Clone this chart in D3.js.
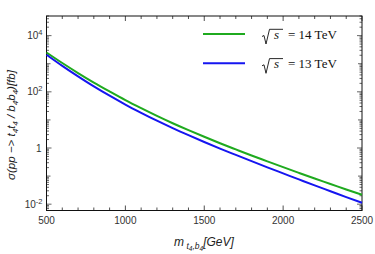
<!DOCTYPE html>
<html><head><meta charset="utf-8">
<script src="https://cdn.jsdelivr.net/npm/d3@7"></script>
<style>body{margin:0;background:#fff}svg{display:block}</style>
</head><body>
<svg id="c" width="375" height="254"></svg>
<script>
const masses = [500,600,700,800,900,1000,1100,1200,1300,1400,1500,1600,1700,1800,1900,2000,2100,2200,2300,2400,2500];
const sigma14 = [2512,1059,466,213,102.6,50.6,26.2,13.9,7.62,4.32,2.51,1.48,0.891,0.540,0.335,0.208,0.130,0.0820,0.0526,0.0335,0.0217];
const sigma13 = [2096,841,355,156,72.6,35.2,17.9,9.36,5.09,2.86,1.64,0.953,0.568,0.340,0.205,0.125,0.0762,0.0466,0.0289,0.0179,0.0112];
const xTicks = [500,1000,1500,2000,2500];
const yTickExps = [4,2,0,-2];
const seriesNames = ["14","13"];
const colors = ["#1faa1f","#1515f0"];

const svg = d3.select("#c");
const L=46.5, R=362, T=16, B=210.5;
const x = d3.scaleLinear().domain([500,2500]).range([L,R]);
const y = d3.scaleLog().domain([5.96e-3,5.0e4]).range([B,T]);

const g = svg.append("g");
const tickCol="#222";
d3.range(500,2501,100).forEach(v=>{
  const major = v%500===0;
  const len = major?5:3;
  g.append("line").attr("x1",x(v)).attr("x2",x(v)).attr("y1",B).attr("y2",B-len).attr("stroke",tickCol).attr("stroke-width",0.8);
  g.append("line").attr("x1",x(v)).attr("x2",x(v)).attr("y1",T).attr("y2",T+len).attr("stroke",tickCol).attr("stroke-width",0.8);
});
for(let e=-3;e<=4;e++){
  for(let k=1;k<=9;k++){
    const v=k*Math.pow(10,e);
    if(v<y.domain()[0]||v>y.domain()[1]) continue;
    let len = k===1 ? (e%2===0?5:4) : 2.5;
    const yy=y(v);
    g.append("line").attr("x1",L).attr("x2",L+len).attr("y1",yy).attr("y2",yy).attr("stroke",tickCol).attr("stroke-width",0.7);
    g.append("line").attr("x1",R).attr("x2",R-len).attr("y1",yy).attr("y2",yy).attr("stroke",tickCol).attr("stroke-width",0.7);
  }
}
svg.append("rect").attr("x",L).attr("y",T).attr("width",R-L).attr("height",B-T).attr("fill","none").attr("stroke","#111").attr("stroke-width",1);

xTicks.forEach(v=>{
  svg.append("text").attr("x",x(v)).attr("y",B+13).attr("text-anchor","middle")
    .attr("font-family","Liberation Sans, Arial, sans-serif").attr("font-size",10).attr("fill","#333").text(v);
});
yTickExps.forEach(e=>{
  const t = svg.append("text").attr("y",y(Math.pow(10,e))+3.5).attr("text-anchor","end")
    .attr("font-family","Liberation Sans, Arial, sans-serif").attr("font-size",10).attr("fill","#333");
  if(e===0){ t.attr("x",L-5).text("1"); }
  else {
    t.attr("x",L-4);
    t.append("tspan").text("10");
    t.append("tspan").attr("dy",-4).attr("font-size",7.5).text(e);
  }
});

const line = d3.line().x(d=>x(d[0])).y(d=>y(d[1])).curve(d3.curveMonotoneX);
[sigma14,sigma13].forEach((s,i)=>{
  svg.append("path").datum(masses.map((m,j)=>[m,s[j]])).attr("d",line)
    .attr("fill","none").attr("stroke",colors[i]).attr("stroke-width",2);
});

// legend
const legY=[34,63.3];
seriesNames.forEach((n,i)=>{
  const ly=legY[i];
  svg.append("line").attr("x1",203).attr("x2",245).attr("y1",ly).attr("y2",ly).attr("stroke",colors[i]).attr("stroke-width",2);
  const p = d3.path();
  p.moveTo(262,ly+2.5); p.lineTo(264,ly+1.5); p.lineTo(266,ly+10); p.lineTo(269.5,ly-4.7); p.lineTo(283,ly-4.7);
  svg.append("path").attr("d",p.toString()).attr("fill","none").attr("stroke","#111").attr("stroke-width",0.9);
  svg.append("text").attr("x",274).attr("y",ly+5).attr("font-family","Liberation Serif, Times New Roman, serif").attr("font-style","italic").attr("font-size",13).attr("fill","#111").text("s");
  svg.append("text").attr("x",288).attr("y",ly+5).attr("font-family","Liberation Serif, Times New Roman, serif").attr("font-size",13).attr("fill","#111").text("= "+n+" TeV");
});

const xl = svg.append("text").attr("x",204).attr("y",246).attr("text-anchor","middle")
  .attr("font-family","Liberation Sans, Arial, sans-serif").attr("font-style","italic").attr("font-size",12).attr("fill","#222");
xl.append("tspan").text("m");
xl.append("tspan").attr("dy",3).attr("font-size",8.5).text(" t");
xl.append("tspan").attr("dy",2).attr("font-size",6.5).text("4");
xl.append("tspan").attr("dy",-2).attr("font-size",8.5).text(",b");
xl.append("tspan").attr("dy",2).attr("font-size",6.5).text("4");
xl.append("tspan").attr("dy",-5).attr("font-size",12).text("[GeV]");

const yl = svg.append("text").attr("transform","translate(15,125) rotate(-90)").attr("text-anchor","middle")
  .attr("font-family","Liberation Sans, Arial, sans-serif").attr("font-style","italic").attr("font-size",11.5).attr("fill","#222");
yl.append("tspan").text("\u03C3(pp \u2212> t");
yl.append("tspan").attr("dy",2.5).attr("font-size",8).text("4");
yl.append("tspan").attr("dy",-2.5).text("t");
yl.append("tspan").attr("dy",2.5).attr("font-size",8).text("4");
yl.append("tspan").attr("dy",-2.5).text(" / b");
yl.append("tspan").attr("dy",2.5).attr("font-size",8).text("4");
yl.append("tspan").attr("dy",-2.5).text("b");
yl.append("tspan").attr("dy",2.5).attr("font-size",8).text("4");
yl.append("tspan").attr("dy",-2.5).text(")[fb]");
</script>
</body></html>
